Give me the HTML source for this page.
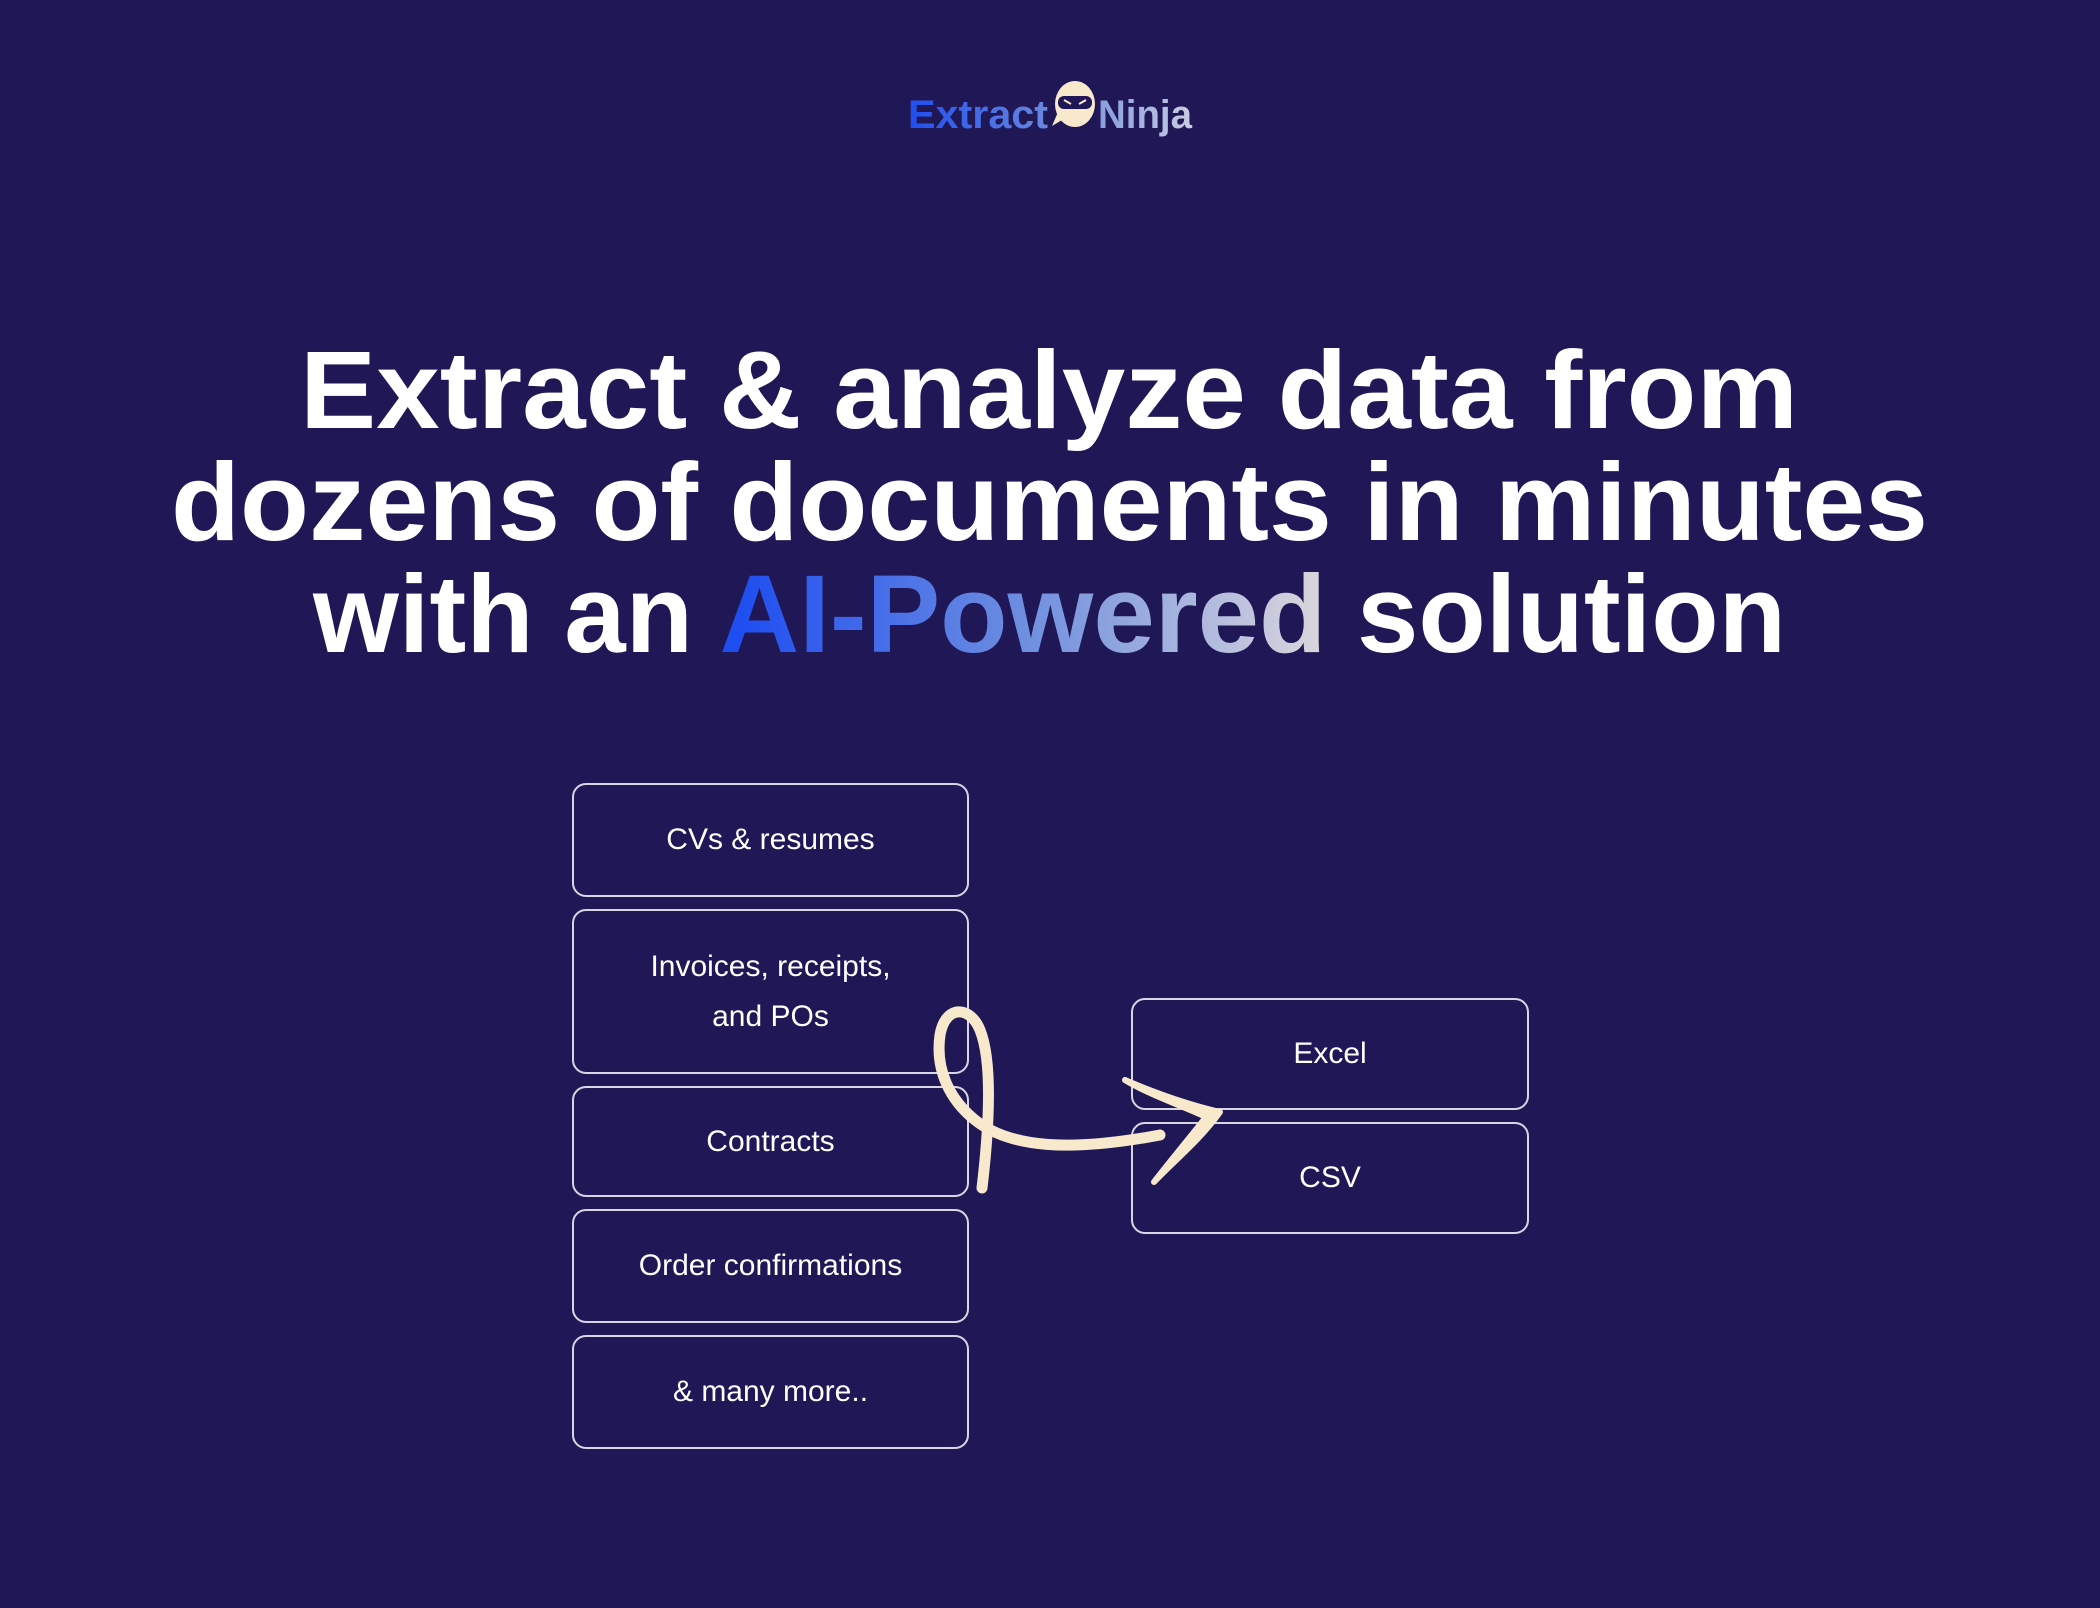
<!DOCTYPE html>
<html><head><meta charset="utf-8"><style>
html,body{margin:0;padding:0;background:#201756;}
body{width:2100px;height:1608px;position:relative;overflow:hidden;font-family:"Liberation Sans",sans-serif;}
.box{position:absolute;border:2px solid #d8d6e4;border-radius:14px;box-sizing:border-box;color:#fff;display:flex;align-items:center;justify-content:center;text-align:center;font-size:30px;line-height:50px;letter-spacing:0px;}
</style></head><body>
<svg width="2100" height="1608" style="position:absolute;left:0;top:0">
<defs>
<linearGradient id="g" x1="740" x2="1314" y1="0" y2="0" gradientUnits="userSpaceOnUse">
<stop offset="0" stop-color="#1f4ef0"/><stop offset="0.5" stop-color="#6f8fe0"/><stop offset="1" stop-color="#d8d4dc"/></linearGradient>
<linearGradient id="lg" x1="908" x2="1192" y1="0" y2="0" gradientUnits="userSpaceOnUse">
<stop offset="0" stop-color="#1f4ef0"/><stop offset="0.6" stop-color="#7a94dc"/><stop offset="1" stop-color="#c8cce0"/></linearGradient>
</defs>
<text x="908" y="128" font-size="40" font-weight="bold" fill="url(#lg)" textLength="140" lengthAdjust="spacingAndGlyphs">Extract</text>
<text x="1098" y="128" font-size="40" font-weight="bold" fill="url(#lg)" textLength="94" lengthAdjust="spacingAndGlyphs">Ninja</text>
<ellipse cx="1075" cy="104" rx="20" ry="23" fill="#f8e8cc"/>
<rect x="1058" y="96" width="34" height="13" rx="6" fill="#201756"/>
<path d="M1064 100 l7 4 M1086 100 l-7 4" stroke="#f8e8cc" stroke-width="2"/>
<path d="M1058 112 l-6 14 l10 -6z" fill="#f8e8cc"/>
<g font-weight="bold" fill="#fff" font-size="110">
<text x="300" y="428" textLength="1498" lengthAdjust="spacingAndGlyphs">Extract &amp; analyze data from</text>
<text x="171" y="540" textLength="1757" lengthAdjust="spacingAndGlyphs">dozens of documents in minutes</text>
<text x="313" y="652" textLength="1473" lengthAdjust="spacingAndGlyphs">with an <tspan fill="url(#g)">AI-Powered</tspan> solution</text>
</g>
</svg>
<div class="box" style="left:572px;top:783px;width:397px;height:114px">CVs &amp; resumes</div>
<div class="box" style="left:572px;top:909px;width:397px;height:165px">Invoices, receipts,<br>and POs</div>
<div class="box" style="left:572px;top:1086px;width:397px;height:111px">Contracts</div>
<div class="box" style="left:572px;top:1209px;width:397px;height:114px">Order confirmations</div>
<div class="box" style="left:572px;top:1335px;width:397px;height:114px">&amp; many more..</div>
<div class="box" style="left:1131px;top:998px;width:398px;height:112px">Excel</div>
<div class="box" style="left:1131px;top:1122px;width:398px;height:112px">CSV</div>
<svg width="2100" height="1608" style="position:absolute;left:0;top:0">
<path d="M982 1188 C990 1120 992 1060 980 1030 C970 1005 945 1005 940 1035 C935 1070 950 1100 975 1120 C1010 1148 1070 1152 1160 1135" fill="none" stroke="#f8e8cc" stroke-width="11" stroke-linecap="round"/>
<path d="M1125 1080 C1160 1095 1190 1105 1220 1112 C1200 1140 1175 1160 1154 1182 C1175 1155 1192 1135 1206 1117 C1180 1105 1150 1095 1125 1080z" fill="#f8e8cc" stroke="#f8e8cc" stroke-width="6" stroke-linejoin="round"/>
</svg>
</body></html>
